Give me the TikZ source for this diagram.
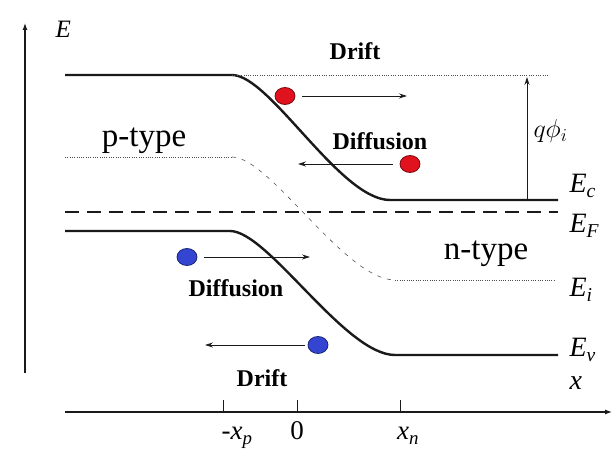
\documentclass[tikz,border=0pt]{standalone}
\usepackage{fix-cm}
\usepackage{fontspec}
\setmainfont{Liberation Serif}
\newfontfamily\timesface{Liberation Serif}
\usepackage{xcolor}
\usetikzlibrary{arrows.meta,positioning,shapes.geometric}
\definecolor{elecred}{HTML}{E0121E}
\definecolor{holeblue}{HTML}{3445D2}
\definecolor{bk90}{HTML}{1A1A1A}
\definecolor{bk60}{HTML}{505050}
\newcommand{\lvl}[2]{\textit{#1}\textsubscript{\textit{#2}}}
\tikzset{
  band/.style={line width=2.4pt, color=bk90},
  fermi/.style={line width=2.4pt, color=bk90, dash pattern=on 14pt off 8pt},
  levelline/.style={line width=0.7pt, color=bk60, dash pattern=on 1pt off 1.3pt},
  bendline/.style={line width=0.6pt, color=bk60, dash pattern=on 4pt off 6pt},
  axisline/.style={line width=1.2pt, color=bk90, -{Latex[length=7pt,width=5pt]}},
  tickline/.style={line width=0.8pt, color=bk90},
  carrier/.style={
    ellipse, draw=#1!55!black, fill=#1, line width=0.8pt,
    minimum width=20pt, minimum height=17pt, inner sep=0pt
  },
  carrier/.default=elecred,
  flowarrow/.style={line width=0.8pt, color=bk90, shorten <=7pt,
    -{Stealth[length=8pt,width=5pt]}},
  flowlabel/.style={font=\timesface\fontsize{24}{28}\selectfont\bfseries, anchor=base},
  typelabel/.style={font=\timesface\fontsize{33}{38}\selectfont, anchor=base},
  levellabel/.style={font=\timesface\fontsize{28}{32}\selectfont, anchor=base west},
  ticklabel/.style={font=\timesface\fontsize{27}{31}\selectfont, anchor=base},
}

\begin{document}
\begin{tikzpicture}[x=1pt, y=1pt]
    \useasboundingbox (0,0) rectangle (614,454);

    % AXES
    \coordinate (Eorig) at (25,81);
    \coordinate (Etop) at (25,431);
    \coordinate (xorig) at (65,42);
    \coordinate (xend) at (612,42);
    \draw[axisline] (Eorig) -- (Etop);
    \draw[axisline] (xorig) -- (xend);
    \node[levellabel, font=\timesface\fontsize{25}{29}\selectfont] (Elab) at (52,416) {\textit{E}};
    \node[levellabel] (xlab) at (566,64) {\textit{x}};

    % ticks on the x axis
    \foreach \xpos/\nm in {223/xp, 297/xz, 400/xn}
        \draw[tickline] (\xpos,42) coordinate (tick\nm) -- ++(0,12);
    \node[ticklabel] (labxp) at (237,14) {-\lvl{x}{p}};
    \node[ticklabel] (labxz) at (297,14) {0};
    \node[ticklabel] (labxn) at (408,14) {\lvl{x}{n}};

    % BANDS
    \coordinate (EcL) at (65,379);
    \coordinate (EcA) at (232,379);
    \coordinate (EcB) at (390,254);
    \coordinate (EcR) at (558,254);
    \draw[band] (EcL) -- (EcA) .. controls (270,379) and (340,254) .. (EcB) -- (EcR);
    \coordinate (topR) at (548,379);
    \draw[levelline] (EcA) -- (topR);

    \coordinate (EfL) at (65,242);
    \coordinate (EfR) at (558,242);
    \draw[fermi] (EfL) -- (EfR);

    \coordinate (EiL) at (65,297);
    \coordinate (EiA) at (232,297);
    \coordinate (EiB) at (395,174);
    \coordinate (EiR) at (555,174);
    \draw[levelline] (EiL) -- (EiA);
    \draw[bendline] (EiA) .. controls (270,297) and (345,174) .. (EiB);
    \draw[levelline] (EiB) -- (EiR);

    \coordinate (EvL) at (65,223);
    \coordinate (EvA) at (230,223);
    \coordinate (EvB) at (395,99);
    \coordinate (EvR) at (558,99);
    \draw[band] (EvL) -- (EvA) .. controls (268,223) and (345,99) .. (EvB) -- (EvR);

    % level names
    \node[levellabel] (labEc) at (566,261) {\lvl{E}{c}};
    \node[levellabel] (labEf) at (566,221) {\lvl{E}{F}};
    \node[levellabel] (labEi) at (566,157) {\lvl{E}{i}};
    \node[levellabel] (labEv) at (566,97) {\lvl{E}{v}};

    % built-in potential
    \coordinate (phiB) at (527,254);
    \coordinate (phiT) at (527,377);
    \draw[flowarrow, shorten <=0pt] (phiB) -- (phiT);
    \node[font=\fontsize{26}{30}\selectfont, anchor=base west] (labphi) at (530,316) {$q\phi_i$};

    % region names
    \node[typelabel] (ptype) at (144,307) {p-type};
    \node[typelabel] (ntype) at (486,194) {n-type};

    % ELECTRONS
    \node[carrier] (e1) at (285,358) {};
    \coordinate (e1tip) at (407,358);
    \draw[flowarrow] (e1.east) -- (e1tip);
    \node[flowlabel] (drifte) at (355,394) {Drift};

    \node[carrier] (e2) at (410,290) {};
    \coordinate (e2tip) at (298,290);
    \draw[flowarrow] (e2.west) -- (e2tip);
    \node[flowlabel] (diffe) at (380,304) {Diffusion};

    % HOLES
    \node[carrier=holeblue] (h1) at (187,197) {};
    \coordinate (h1tip) at (310,197);
    \draw[flowarrow] (h1.east) -- (h1tip);
    \node[flowlabel] (diffh) at (236,157) {Diffusion};

    \node[carrier=holeblue] (h2) at (318,109) {};
    \coordinate (h2tip) at (205,109);
    \draw[flowarrow, shorten <=3pt] (h2.west) -- (h2tip);
    \node[flowlabel] (drifth) at (262,67) {Drift};
\end{tikzpicture}
\end{document}
